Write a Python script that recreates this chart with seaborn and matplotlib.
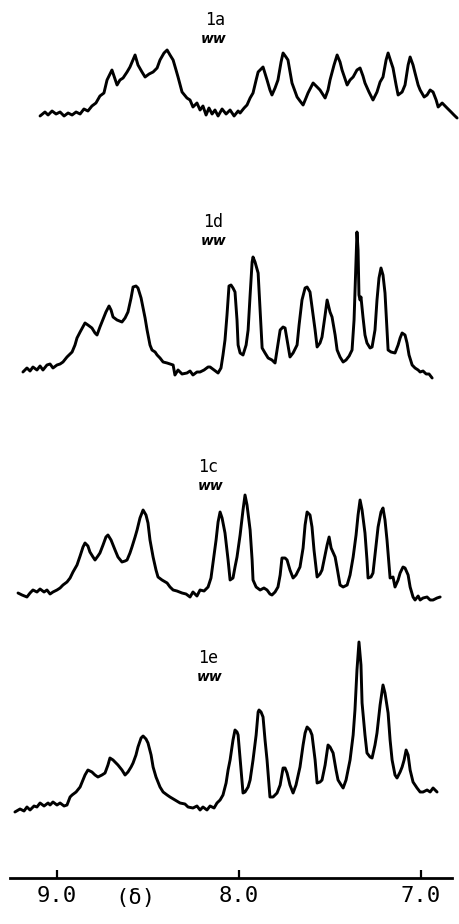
import numpy as np
import pandas as pd
import seaborn as sns
import matplotlib.pyplot as plt

sns.set_theme(style="white")
plt.rcParams['font.family'] = ['DejaVu Sans Mono', 'DejaVu Sans']
plt.rcParams['text.color'] = 'black'
plt.rcParams['xtick.color'] = 'black'

# chemical shift (ppm) and trace height (arbitrary units)
shift_1a = [9.093, 9.066, 9.049, 9.027, 9.005, 8.983, 8.961, 8.939, 8.917, 8.895, 8.873, 8.852, 8.830, 8.808,
            8.786, 8.764, 8.742, 8.725, 8.698, 8.670, 8.654, 8.637, 8.615, 8.599, 8.571, 8.555, 8.533, 8.516,
            8.494, 8.472, 8.450, 8.434, 8.412, 8.395, 8.379, 8.362, 8.346, 8.335, 8.313, 8.286, 8.269, 8.253,
            8.231, 8.214, 8.198, 8.181, 8.165, 8.148, 8.132, 8.115, 8.093, 8.071, 8.049, 8.027, 8.005, 7.994,
            7.972, 7.956, 7.939, 7.923, 7.906, 7.895, 7.868, 7.846, 7.830, 7.819, 7.802, 7.786, 7.769, 7.758,
            7.742, 7.731, 7.709, 7.681, 7.665, 7.648, 7.632, 7.621, 7.593, 7.571, 7.555, 7.527, 7.511, 7.500,
            7.478, 7.461, 7.445, 7.434, 7.406, 7.390, 7.373, 7.352, 7.335, 7.319, 7.308, 7.286, 7.264, 7.242,
            7.225, 7.209, 7.192, 7.181, 7.165, 7.154, 7.137, 7.126, 7.104, 7.088, 7.071, 7.060, 7.044, 7.033,
            7.016, 7.005, 6.983, 6.967, 6.950, 6.934, 6.917, 6.906, 6.884, 6.857, 6.835, 6.819, 6.802]
height_1a = [-1, 3, 0, 4, 1, 3, -1, 2, 0, 3, 1, 6, 4, 9,
             12, 19, 22, 35, 45, 30, 35, 37, 43, 48, 60, 50, 43, 38,
             41, 43, 47, 55, 62, 65, 60, 55, 45, 38, 23, 17, 15, 8,
             12, 5, 9, 0, 7, 1, 5, -1, 6, 1, 5, -1, 4, 2,
             7, 10, 17, 22, 35, 43, 48, 35, 25, 20, 27, 35, 53, 62,
             58, 55, 32, 18, 14, 10, 17, 22, 32, 28, 25, 17, 25, 35,
             50, 60, 53, 45, 30, 35, 38, 45, 47, 39, 32, 23, 15, 23,
             33, 38, 55, 62, 53, 47, 30, 20, 23, 30, 50, 58, 50, 42,
             30, 25, 18, 20, 25, 23, 15, 8, 12, 7, 3, 0, -3]

shift_1d = [9.187, 9.165, 9.148, 9.132, 9.110, 9.093, 9.077, 9.055, 9.038, 9.022, 9.000, 8.983, 8.967, 8.945,
            8.928, 8.917, 8.901, 8.890, 8.873, 8.846, 8.830, 8.808, 8.791, 8.780, 8.764, 8.753, 8.731, 8.714,
            8.703, 8.692, 8.670, 8.643, 8.626, 8.610, 8.593, 8.582, 8.566, 8.555, 8.538, 8.527, 8.516, 8.505,
            8.489, 8.478, 8.461, 8.450, 8.434, 8.417, 8.395, 8.379, 8.362, 8.352, 8.335, 8.313, 8.286, 8.269,
            8.253, 8.231, 8.214, 8.192, 8.170, 8.159, 8.137, 8.115, 8.099, 8.088, 8.077, 8.066, 8.055, 8.044,
            8.033, 8.022, 8.011, 8.005, 7.994, 7.978, 7.961, 7.950, 7.939, 7.928, 7.923, 7.912, 7.895, 7.884,
            7.873, 7.857, 7.840, 7.819, 7.802, 7.791, 7.774, 7.758, 7.747, 7.736, 7.720, 7.703, 7.681, 7.670,
            7.654, 7.637, 7.626, 7.610, 7.599, 7.582, 7.571, 7.555, 7.544, 7.527, 7.516, 7.500, 7.489, 7.472,
            7.461, 7.445, 7.428, 7.412, 7.395, 7.379, 7.368, 7.357, 7.352, 7.346, 7.341, 7.335, 7.330, 7.319,
            7.308, 7.297, 7.280, 7.269, 7.253, 7.242, 7.231, 7.220, 7.209, 7.198, 7.187, 7.181, 7.165, 7.143,
            7.126, 7.115, 7.104, 7.088, 7.077, 7.066, 7.049, 7.033, 7.016, 7.005, 6.989, 6.972, 6.956, 6.939]
height_1d = [-2, 2, -1, 3, 0, 4, 0, 5, 6, 2, 5, 6, 8, 13,
             16, 18, 25, 32, 38, 47, 45, 42, 37, 35, 43, 48, 58, 64,
             60, 53, 50, 48, 52, 58, 72, 83, 84, 82, 72, 62, 52, 40,
             25, 20, 18, 15, 12, 8, 7, 6, 5, -5, 0, -4, -3, -1,
             -5, -2, -2, 0, 3, 3, 0, -3, 2, 15, 30, 55, 84, 85,
             82, 78, 50, 25, 17, 15, 25, 40, 75, 108, 113, 108, 97, 60,
             22, 17, 12, 10, 7, 20, 40, 43, 42, 30, 13, 17, 25, 45,
             70, 82, 83, 78, 63, 40, 23, 27, 33, 55, 70, 58, 53, 35,
             20, 13, 8, 10, 14, 20, 50, 110, 138, 120, 75, 70, 73, 53,
             35, 27, 22, 23, 40, 70, 92, 102, 95, 77, 40, 20, 18, 17,
             25, 32, 37, 35, 27, 15, 5, 2, 0, -2, -1, -4, -4, -8]

shift_1c = [9.214, 9.192, 9.165, 9.148, 9.132, 9.110, 9.093, 9.071, 9.055, 9.038, 9.022, 9.000, 8.983, 8.967,
            8.945, 8.928, 8.912, 8.890, 8.873, 8.857, 8.846, 8.830, 8.819, 8.802, 8.791, 8.775, 8.764, 8.747,
            8.731, 8.720, 8.703, 8.681, 8.665, 8.643, 8.626, 8.615, 8.599, 8.588, 8.571, 8.560, 8.544, 8.527,
            8.511, 8.500, 8.489, 8.472, 8.456, 8.445, 8.423, 8.395, 8.379, 8.362, 8.341, 8.313, 8.291, 8.269,
            8.253, 8.231, 8.214, 8.192, 8.170, 8.154, 8.143, 8.126, 8.115, 8.104, 8.093, 8.077, 8.060, 8.049,
            8.033, 8.022, 8.011, 7.994, 7.978, 7.967, 7.956, 7.939, 7.928, 7.923, 7.906, 7.884, 7.863, 7.846,
            7.830, 7.819, 7.802, 7.786, 7.774, 7.764, 7.747, 7.736, 7.720, 7.703, 7.687, 7.665, 7.648, 7.637,
            7.626, 7.610, 7.599, 7.588, 7.571, 7.555, 7.544, 7.527, 7.516, 7.505, 7.494, 7.472, 7.461, 7.445,
            7.428, 7.406, 7.390, 7.373, 7.357, 7.346, 7.335, 7.324, 7.308, 7.297, 7.291, 7.275, 7.264, 7.253,
            7.236, 7.220, 7.209, 7.198, 7.187, 7.176, 7.170, 7.154, 7.143, 7.126, 7.115, 7.099, 7.088, 7.071,
            7.060, 7.044, 7.033, 7.016, 7.005, 6.989, 6.967, 6.950, 6.934, 6.912, 6.895]
height_1c = [-1, -3, -5, -1, 2, 0, 3, 0, 2, -2, 0, 2, 4, 7,
             10, 14, 20, 27, 36, 45, 49, 46, 40, 35, 32, 36, 39, 47,
             55, 57, 52, 42, 35, 30, 31, 32, 39, 45, 55, 62, 74, 82,
             77, 69, 52, 35, 22, 15, 12, 9, 5, 2, 1, -1, -2, -5,
             0, -4, 2, 1, 5, 14, 29, 52, 70, 80, 74, 59, 32, 12,
             14, 25, 35, 57, 82, 97, 87, 62, 32, 12, 5, 2, 4, 2,
             -2, -3, 0, 5, 17, 34, 34, 32, 22, 14, 17, 25, 44, 67,
             80, 77, 65, 42, 15, 18, 22, 37, 47, 55, 44, 35, 24, 7,
             5, 7, 17, 35, 57, 77, 92, 82, 59, 32, 14, 15, 19, 37,
             65, 80, 84, 72, 52, 27, 14, 15, 5, 12, 19, 25, 24, 17,
             5, -5, -8, -4, -8, -6, -5, -8, -8, -6, -5]

shift_1e = [9.231, 9.203, 9.181, 9.165, 9.148, 9.126, 9.110, 9.093, 9.071, 9.049, 9.038, 9.022, 9.000, 8.983,
            8.961, 8.945, 8.928, 8.917, 8.895, 8.873, 8.857, 8.846, 8.830, 8.808, 8.791, 8.775, 8.753, 8.736,
            8.720, 8.709, 8.692, 8.676, 8.665, 8.643, 8.626, 8.610, 8.593, 8.582, 8.566, 8.555, 8.538, 8.527,
            8.511, 8.500, 8.483, 8.472, 8.456, 8.434, 8.417, 8.395, 8.379, 8.352, 8.324, 8.297, 8.280, 8.253,
            8.231, 8.214, 8.198, 8.176, 8.159, 8.137, 8.121, 8.104, 8.088, 8.071, 8.060, 8.049, 8.033, 8.022,
            8.011, 8.005, 7.994, 7.978, 7.967, 7.950, 7.939, 7.923, 7.906, 7.895, 7.890, 7.879, 7.868, 7.857,
            7.846, 7.835, 7.830, 7.813, 7.791, 7.774, 7.758, 7.747, 7.736, 7.720, 7.703, 7.687, 7.665, 7.648,
            7.637, 7.626, 7.610, 7.599, 7.582, 7.571, 7.555, 7.544, 7.527, 7.511, 7.500, 7.483, 7.467, 7.456,
            7.439, 7.428, 7.412, 7.390, 7.373, 7.363, 7.352, 7.341, 7.330, 7.324, 7.308, 7.297, 7.280, 7.269,
            7.253, 7.242, 7.225, 7.209, 7.198, 7.181, 7.170, 7.159, 7.143, 7.132, 7.115, 7.104, 7.093, 7.082,
            7.071, 7.060, 7.044, 7.022, 7.005, 6.989, 6.967, 6.950, 6.934, 6.912]
height_1e = [-4, -1, -3, 1, -2, 2, 1, 5, 2, 5, 3, 6, 3, 5,
             2, 3, 11, 13, 16, 21, 28, 33, 38, 36, 33, 31, 33, 35,
             43, 50, 48, 45, 43, 38, 33, 36, 41, 45, 53, 61, 70, 72,
             69, 65, 53, 41, 31, 21, 16, 13, 11, 8, 5, 4, 1, 0,
             2, -2, 1, -2, 2, 0, 5, 8, 13, 25, 38, 48, 68, 78,
             76, 73, 50, 15, 16, 21, 28, 48, 73, 96, 98, 96, 91, 68,
             48, 23, 11, 11, 15, 23, 40, 40, 35, 23, 15, 23, 41, 63,
             75, 81, 78, 73, 48, 25, 26, 28, 43, 63, 61, 55, 38, 28,
             23, 20, 28, 48, 73, 98, 138, 166, 143, 105, 73, 55, 51, 50,
             63, 75, 103, 123, 115, 95, 68, 48, 33, 30, 36, 41, 48, 58,
             53, 38, 26, 20, 16, 16, 18, 16, 20, 16]

compounds = ["1a", "1d", "1c", "1e"]
tick_values = [9.0, 8.0, 7.0]
tick_labels = ["9.0", "8.0", "7.0"]

# baseline row of each stacked trace (figure pixel rows, top = 0)
baselines = {"1a": 115, "1d": 370, "1c": 592, "1e": 808}
label_pos = {"1a": (8.132, 20), "1d": (8.143, 222), "1c": (8.170, 467), "1e": (8.170, 658)}
squiggle_pos = {"1a": (8.137, 39), "1d": (8.137, 241), "1c": (8.154, 486), "1e": (8.159, 677)}

series = {"1a": (shift_1a, height_1a), "1d": (shift_1d, height_1d),
          "1c": (shift_1c, height_1c), "1e": (shift_1e, height_1e)}
frames = []
for name in compounds:
    s, h = series[name]
    frames.append(pd.DataFrame({"shift": s, "row": baselines[name] - np.array(h), "compound": name}))
df = pd.concat(frames, ignore_index=True)

fig = plt.figure(figsize=(4.6, 9.24), dpi=100)
ax = fig.add_axes([0, 46 / 924, 1, 1 - 46 / 924])

sns.lineplot(data=df, x="shift", y="row", units="compound", estimator=None,
             color="black", linewidth=2.1, ax=ax, legend=False)

ax.set_xlim(9.313, 6.786)
ax.set_ylim(878, 0)
ax.set_xlabel("")
ax.set_ylabel("")
ax.set_yticks([])
ax.set_xticks(tick_values)
ax.set_xticklabels(tick_labels, fontsize=16)
ax.tick_params(axis="x", direction="in", length=6, width=1.6, pad=6, colors="black", bottom=True)
for side in ["top", "left", "right"]:
    ax.spines[side].set_visible(False)
ax.spines["bottom"].set_bounds(9.258, 6.830)
ax.spines["bottom"].set_linewidth(2.0)
ax.spines["bottom"].set_color("black")
ax.set_facecolor("white")

ax.text(8.571, 898, "(δ)", fontsize=16, ha="center", va="center", clip_on=False)

for name in compounds:
    lx, ly = label_pos[name]
    ax.text(lx, ly, name, fontsize=12, ha="center", va="center")
    sx, sy = squiggle_pos[name]
    ax.text(sx, sy, "ww", fontsize=10, ha="center", va="center", style="italic",
            fontweight="bold", family="DejaVu Sans")

fig.savefig("out.png", dpi=100, facecolor="white")
